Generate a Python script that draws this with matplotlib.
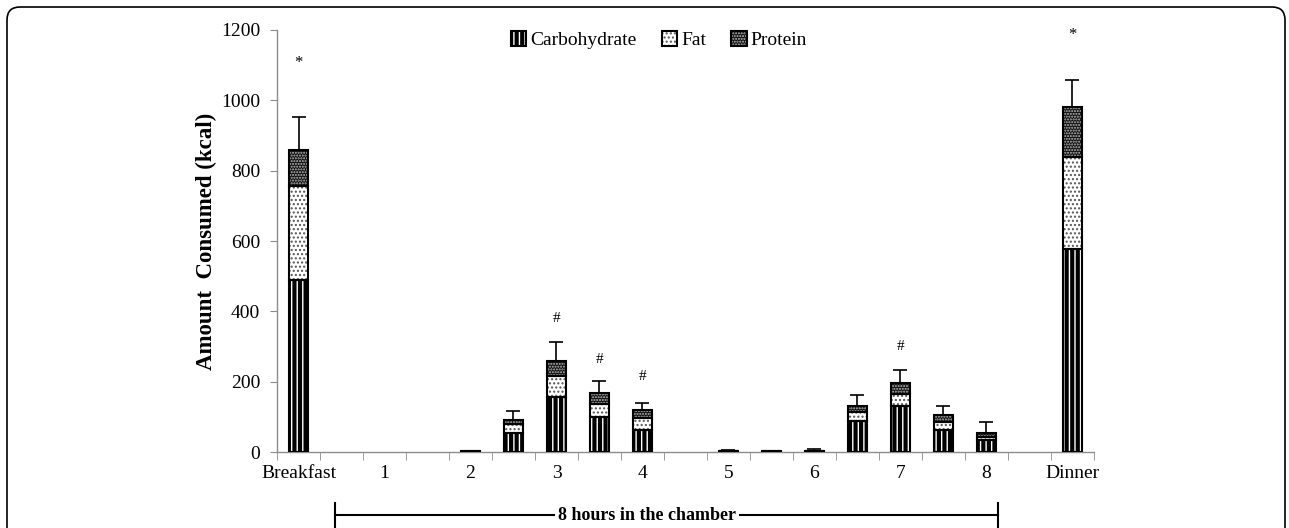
import matplotlib
matplotlib.use('Agg')
import matplotlib.pyplot as plt
import numpy as np
from matplotlib.lines import Line2D
from matplotlib.patches import FancyBboxPatch

plt.rcParams['font.family'] = ['Liberation Serif', 'DejaVu Serif']
plt.rcParams['hatch.linewidth'] = 1.0

# 19 slots: meals plus half-hour steps inside the chamber
labels = ['Breakfast', '', '1', '', '2', '', '3', '', '4', '',
          '5', '', '6', '', '7', '', '8', '', 'Dinner']
carb = [490, 0, 0, 0, 1, 54, 156, 99, 62, 0, 2, 1, 2, 88, 131, 62, 34, 0, 577]
fat = [265, 0, 0, 0, 1, 26, 60, 37, 35, 0, 1, 1, 1, 26, 34, 24, 9, 0, 261]
protein = [105, 0, 0, 0, 1, 11, 43, 31, 22, 0, 1, 1, 1, 17, 31, 19, 11, 0, 142]
err_up = [92, 0, 0, 0, 0, 26, 53, 35, 20, 0, 3, 0, 5, 31, 37, 26, 31, 0, 77]
star_slots = [0, 18]
star_y = [1105, 1185]
hash_slots = [6, 7, 8, 14]
hash_y = [380, 264, 216, 301]

carb = np.array(carb, float)
fat = np.array(fat, float)
protein = np.array(protein, float)
err_up = np.array(err_up, float)
x = np.arange(len(labels))
w = 0.45

fig = plt.figure(figsize=(12.89, 5.28), dpi=100)
ax = fig.add_axes([0.2149, 0.1439, 0.8487 - 0.2149, 0.9432 - 0.1439])

# (face, hatch, hatch colour)
styles = {
    'Carbohydrate': ('black', '|||', 'white'),
    'Fat': ('white', '....', '#555555'),
    'Protein': ('#111111', '......', '#bbbbbb'),
}

def stacked(name, vals, bottom):
    face, hatch, hcol = styles[name]
    m = vals > 0
    xs, vs, bs = x[m], vals[m], np.asarray(bottom, float)[m] if np.ndim(bottom) else bottom
    b0 = ax.bar(xs, vs, w, bottom=bs, color=face, linewidth=0, zorder=2)
    b1 = ax.bar(xs, vs, w, bottom=bs, facecolor='none', edgecolor=hcol,
                hatch=hatch, linewidth=0, zorder=3)
    b2 = ax.bar(xs, vs, w, bottom=bs, facecolor='none', edgecolor='black',
                linewidth=1.5, zorder=4)
    return (b0[0], b1[0], b2[0])

handles = []
handles.append(stacked('Carbohydrate', carb, 0))
handles.append(stacked('Fat', fat, carb))
handles.append(stacked('Protein', protein, carb + fat))

total = carb + fat + protein
me = err_up > 0
ax.errorbar(x[me], total[me], yerr=[np.zeros(me.sum()), err_up[me]], fmt='none',
            ecolor='black', elinewidth=1.2, capsize=5, capthick=1.2, zorder=5)

for s, yy in zip(star_slots, star_y):
    ax.text(s, yy, '*', ha='center', va='center', fontsize=12)
for s, yy in zip(hash_slots, hash_y):
    ax.text(s, yy, '#', ha='center', va='center', fontsize=11)

ax.set_xlim(-0.5, len(labels) - 0.5)
ax.set_ylim(0, 1200)
ax.set_yticks(np.arange(0, 1201, 200))
ax.set_xticks(x)
ax.set_xticklabels(labels, fontsize=14)
ax.set_xticks(np.arange(-0.5, len(labels)), minor=True)
ax.tick_params(axis='x', which='major', length=0, pad=9)
ax.tick_params(axis='x', which='minor', length=6, color='#8c8c8c')
ax.tick_params(axis='y', length=5, color='#8c8c8c', labelsize=14, pad=7)
for sp in ['top', 'right']:
    ax.spines[sp].set_visible(False)
for sp in ['left', 'bottom']:
    ax.spines[sp].set_color('#8c8c8c')
    ax.spines[sp].set_linewidth(1.0)
ax.set_ylabel('Amount  Consumed (kcal)', fontsize=16.5, fontweight='bold', labelpad=3)

fig.legend(handles, ['Carbohydrate', 'Fat', 'Protein'], loc='center',
           bbox_to_anchor=(659 / 1289, 1 - 40 / 528), ncol=3, frameon=False,
           fontsize=14, handlelength=0.8, handleheight=0.8, handletextpad=0.2,
           columnspacing=1.3)

# bracket under the chamber hours
yb = 1 - 515 / 528
fig.add_artist(Line2D([335 / 1289, 998 / 1289], [yb, yb], color='black', lw=1.5))
for xe in [335 / 1289, 998 / 1289]:
    fig.add_artist(Line2D([xe, xe], [yb - 12 / 528, yb + 12 / 528], color='black', lw=1.5))
fig.text(647 / 1289, yb, '8 hours in the chamber', ha='center', va='center',
         fontsize=13, fontweight='bold',
         bbox=dict(facecolor='white', edgecolor='none', pad=2))

frame = FancyBboxPatch((0.07, -0.5), 12.78, 5.21 + 0.5,
                       boxstyle='round,pad=0,rounding_size=0.13',
                       transform=fig.dpi_scale_trans, facecolor='none',
                       edgecolor='black', linewidth=1.2, clip_on=False)
fig.add_artist(frame)

fig.savefig('out.png', dpi=100)
